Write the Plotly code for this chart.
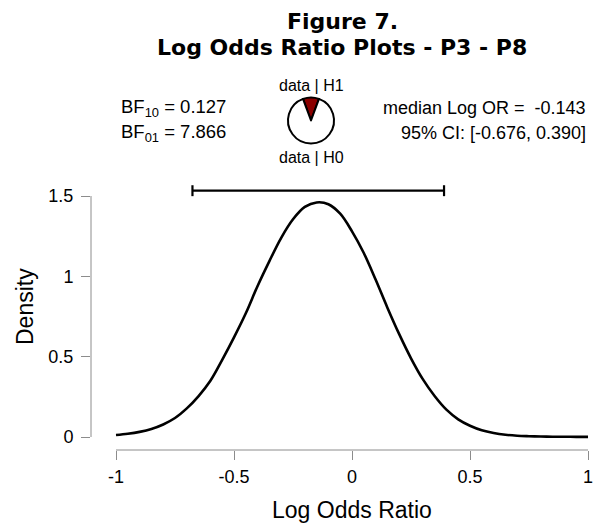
import plotly.graph_objects as go

# ---- data ----
log_or = [-1.00, -0.95, -0.90, -0.85, -0.80, -0.75, -0.70, -0.65, -0.60, -0.55,
          -0.50, -0.45, -0.40, -0.35, -0.30, -0.25, -0.20, -0.15, -0.10, -0.05,
          0.00, 0.05, 0.10, 0.15, 0.20, 0.25, 0.30, 0.35, 0.40, 0.45,
          0.50, 0.55, 0.60, 0.65, 0.70, 0.75, 0.80, 0.85, 0.90, 0.95, 1.00]
density = [0.012, 0.020, 0.032, 0.050, 0.078, 0.118, 0.178, 0.255, 0.350, 0.480,
           0.620, 0.770, 0.940, 1.095, 1.240, 1.355, 1.432, 1.460, 1.449, 1.390,
           1.280, 1.145, 0.980, 0.805, 0.640, 0.490, 0.360, 0.255, 0.170, 0.110,
           0.070, 0.042, 0.025, 0.014, 0.008, 0.005, 0.003, 0.002, 0.0015, 0.001, 0.001]
ci_low, ci_high = -0.676, 0.390
median_log_or = -0.143
bf10, bf01 = 0.127, 7.866
x_ticks = [-1, -0.5, 0, 0.5, 1]
x_ticklabels = ["-1", "-0.5", "0", "0.5", "1"]
y_ticks = [0, 0.5, 1, 1.5]
y_ticklabels = ["0", "0.5", "1", "1.5"]

# ---- layout geometry ----
W, H = 602, 524
ML, MR, MT, MB = 91, 9, 70, 74
PW, PH = W - ML - MR, H - MT - MB


def px(xp):
    return (xp - ML) / PW


def py(yp):
    return (H - MB - yp) / PH


FONT = "Liberation Sans"
TFONT = "DejaVu Sans"
AX = "#8c8c8c"

fig = go.Figure()

fig.add_trace(go.Scatter(x=log_or, y=density, mode="lines", line_shape="spline",
                         line=dict(color="black", width=2.6), hoverinfo="skip",
                         showlegend=False))

ci_y = max(density) * 1.05
fig.add_trace(go.Scatter(x=[ci_low, ci_high], y=[ci_y, ci_y], mode="lines",
                         line=dict(color="black", width=2.2),
                         error_y=dict(type="constant", value=0.034, width=0,
                                      thickness=2.2, color="black"),
                         showlegend=False, hoverinfo="skip"))

fig.add_trace(go.Pie(values=[bf10, 1.0], labels=["data | H1", "data | H0"],
                     marker=dict(colors=["#8b0000", "white"],
                                 line=dict(color="black", width=2)),
                     textinfo="none", sort=False, direction="clockwise",
                     rotation=-360 * bf10 / (1 + bf10) / 2,
                     domain=dict(x=[px(288), px(334)], y=[py(143.5), py(97.5)]),
                     showlegend=False, hoverinfo="skip"))

# detached axis lines
fig.add_shape(type="line", xref="x", yref="paper", x0=x_ticks[0], x1=x_ticks[-1],
              y0=0, y1=0, line=dict(color=AX, width=1))
fig.add_shape(type="line", xref="paper", yref="y", x0=0, x1=0,
              y0=y_ticks[0], y1=y_ticks[-1], line=dict(color=AX, width=1))

ann = []
ann.append(dict(text="<b>Figure 7.</b>", x=0.5, xref="paper", y=py(21.5), yref="paper",
                font=dict(family=TFONT, size=22, color="black")))
ann.append(dict(text="<b>Log Odds Ratio Plots - P3 - P8</b>", x=0.5, xref="paper",
                y=py(47.5), yref="paper",
                font=dict(family=TFONT, size=22, color="black")))
ann.append(dict(text="data | H1", x=px(311), y=py(85), font=dict(size=16)))
ann.append(dict(text="data | H0", x=px(311), y=py(157), font=dict(size=16)))
ann.append(dict(text="BF<sub>10</sub> = %.3f" % bf10, x=px(119), y=py(108),
                xanchor="left", font=dict(size=18.5)))
ann.append(dict(text="BF<sub>01</sub> = %.3f" % bf01, x=px(119), y=py(133),
                xanchor="left", font=dict(size=18.5)))
ann.append(dict(text="median Log OR =  %.3f" % median_log_or, x=px(588), y=py(108),
                xanchor="right", font=dict(size=18)))
ann.append(dict(text="95%% CI: [%.3f, %.3f]" % (ci_low, ci_high), x=px(588), y=py(133),
                xanchor="right", font=dict(size=18)))
ann.append(dict(text="Log Odds Ratio", x=px(352), y=py(510), font=dict(size=23)))
ann.append(dict(text="Density", x=px(25), y=py(307), textangle=-90, font=dict(size=23)))
for a in ann:
    a.setdefault("xref", "paper")
    a.setdefault("yref", "paper")
    a.setdefault("xanchor", "center")
    a["yanchor"] = "middle"
    a["showarrow"] = False
    f = a.setdefault("font", {})
    f.setdefault("family", FONT)
    f.setdefault("color", "black")

fig.update_layout(
    width=W, height=H,
    margin=dict(l=ML, r=MR, t=MT, b=MB, pad=0),
    paper_bgcolor="white", plot_bgcolor="white",
    annotations=ann,
    xaxis=dict(range=[-1 - 25 / 236, 1 + 5 / 236], tickvals=x_ticks, ticktext=x_ticklabels,
               showgrid=False, zeroline=False, showline=False,
               ticks="outside", ticklen=9, tickwidth=1, tickcolor=AX,
               ticklabelstandoff=1,
               tickfont=dict(family=FONT, size=18, color="black"), fixedrange=True),
    yaxis=dict(range=[-13 / 160.67, (437 - 70) / 160.67], tickvals=y_ticks,
               ticktext=y_ticklabels,
               showgrid=False, zeroline=False, showline=False,
               ticks="outside", ticklen=9, tickwidth=1, tickcolor=AX,
               ticklabelstandoff=4,
               tickfont=dict(family=FONT, size=18, color="black"), fixedrange=True),
)

fig.write_html("out.html")
